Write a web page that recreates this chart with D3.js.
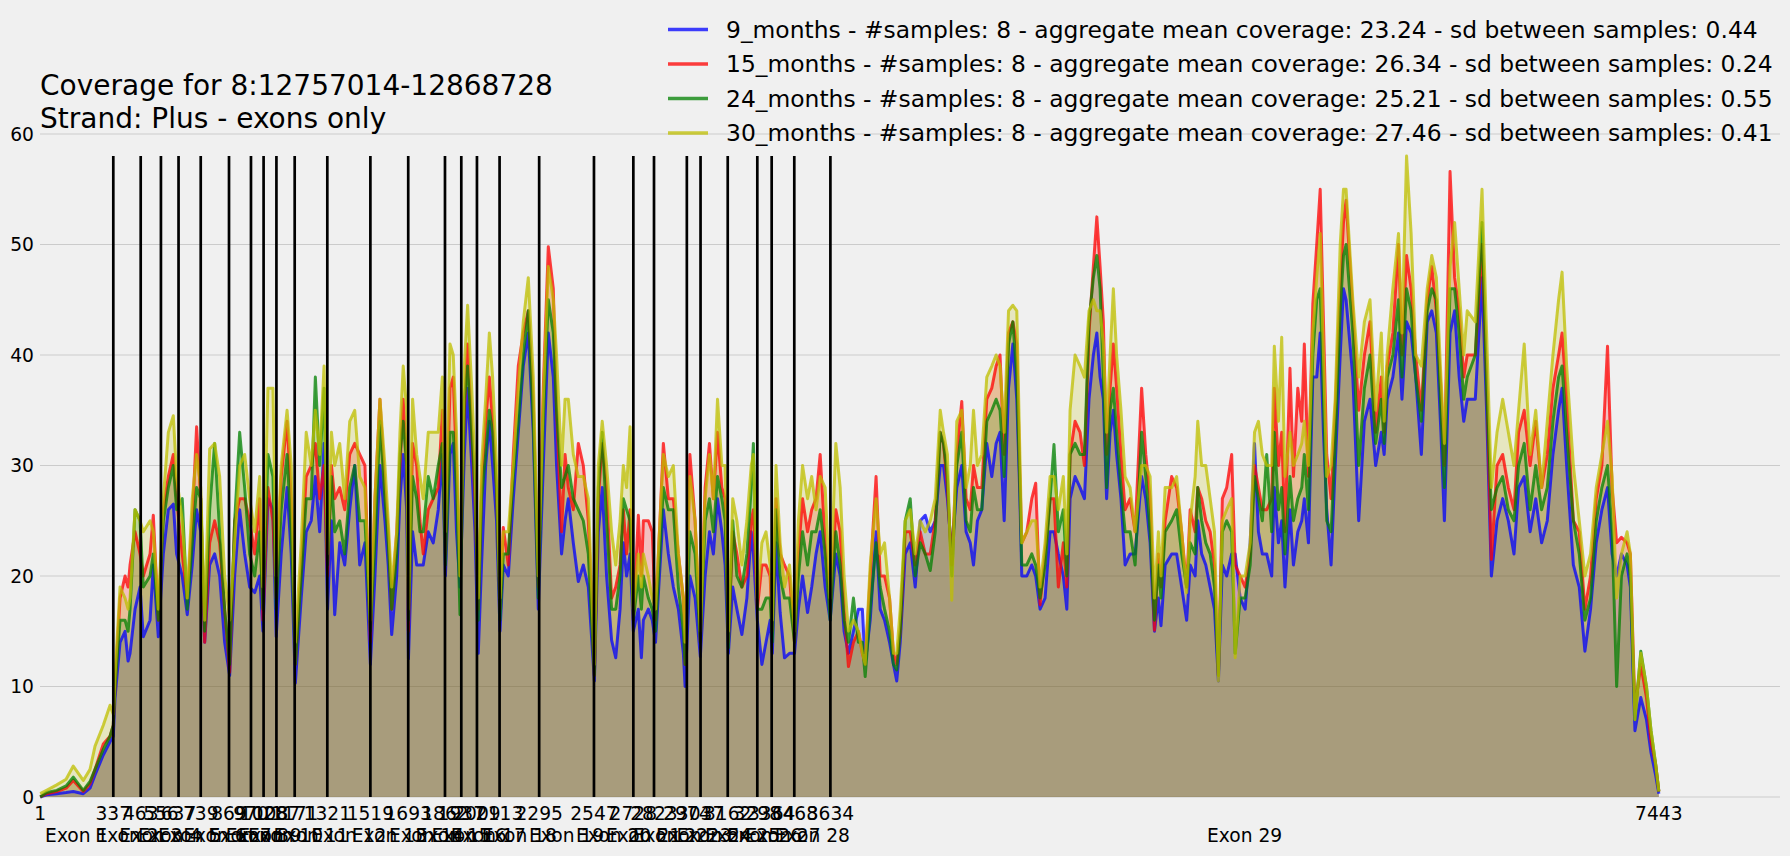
<!DOCTYPE html>
<html>
<head>
<meta charset="utf-8">
<script src="https://cdn.jsdelivr.net/npm/d3@7/dist/d3.min.js"></script>
<style>
    body { margin: 0; background: #f0f0f0; }
    svg  { display: block; font-family: "DejaVu Sans", sans-serif; }
</style>
</head>
<body>
<svg id="chart" width="1790" height="856"></svg>
<script>
// positions along the concatenated exons (bp)
var positions = [
    1, 30, 77, 120, 153, 199, 230, 253, 291, 322,
    337, 345, 368, 391, 405, 414, 437, 460, 475, 506,
    521, 544, 567, 590, 613, 628, 654, 677, 700, 720,
    739, 757, 780, 803, 826, 849, 872, 895, 918, 941,
    964, 987, 1010, 1025, 1048, 1071, 1086, 1109, 1136, 1155,
    1174, 1201, 1224, 1247, 1266, 1286, 1306, 1322, 1340, 1355,
    1378, 1401, 1424, 1447, 1470, 1494, 1519, 1540, 1563, 1586,
    1601, 1617, 1640, 1655, 1670, 1686, 1694, 1713, 1732, 1747,
    1762, 1785, 1808, 1831, 1850, 1864, 1885, 1900, 1915, 1931,
    1951, 1966, 1985, 2000, 2015, 2030, 2049, 2066, 2081, 2099,
    2115, 2130, 2153, 2176, 2199, 2222, 2245, 2268, 2291, 2314,
    2337, 2360, 2375, 2398, 2414, 2429, 2452, 2475, 2498, 2521,
    2549, 2567, 2585, 2605, 2628, 2647, 2667, 2682, 2697, 2713,
    2728, 2751, 2765, 2774, 2797, 2815, 2830, 2866, 2889, 2912,
    2935, 2958, 2966, 2988, 3012, 3036, 3058, 3078, 3096, 3115,
    3135, 3150, 3165, 3185, 3204, 3227, 3250, 3270, 3280, 3298,
    3319, 3338, 3357, 3367, 3384, 3403, 3423, 3446, 3469, 3487,
    3506, 3529, 3548, 3568, 3587, 3610, 3633, 3659, 3679, 3697,
    3717, 3740, 3763, 3781, 3794, 3817, 3844, 3863, 3883, 3906,
    3924, 3939, 3955, 3978, 4001, 4024, 4047, 4070, 4093, 4116,
    4139, 4154, 4172, 4192, 4215, 4238, 4258, 4277, 4292, 4310,
    4330, 4353, 4376, 4396, 4414, 4433, 4453, 4473, 4491, 4504,
    4514, 4537, 4560, 4578, 4598, 4621, 4644, 4662, 4682, 4705,
    4721, 4736, 4759, 4782, 4802, 4823, 4843, 4859, 4874, 4889,
    4904, 4920, 4935, 4950, 4970, 4989, 5012, 5035, 5065, 5084,
    5104, 5124, 5142, 5154, 5173, 5203, 5226, 5249, 5272, 5288,
    5311, 5323, 5341, 5360, 5380, 5400, 5418, 5436, 5456, 5479,
    5495, 5518, 5541, 5564, 5584, 5602, 5620, 5640, 5663, 5675,
    5694, 5709, 5724, 5747, 5763, 5783, 5801, 5813, 5832, 5852,
    5870, 5886, 5901, 5916, 5936, 5955, 5978, 5993, 6005, 6036,
    6063, 6089, 6115, 6141, 6167, 6180, 6194, 6220, 6246, 6262,
    6283, 6304, 6325, 6351, 6378, 6399, 6420, 6441, 6457, 6483,
    6504, 6525, 6546, 6562, 6599, 6630, 6651, 6673, 6699, 6725,
    6751, 6777, 6798, 6824, 6851, 6877, 6904, 6930, 6956, 6982,
    6998, 7019, 7050, 7077, 7103, 7129, 7155, 7181, 7207, 7228,
    7249, 7271, 7297, 7312, 7333, 7360, 7386, 7407, 7428, 7443
]

var months9 = [
    0, 0.2, 0.3, 0.4, 0.5, 0.3, 0.8, 2.0, 3.8, 5.0,
    5.5, 9, 14, 15, 12.3, 13, 17, 19, 14.5, 16,
    21, 14.5, 22, 26, 26.5, 22, 20, 16.5, 21, 26,
    24, 14, 21, 22, 20, 14, 11, 20, 26, 22,
    19, 18.5, 20, 15, 27, 26, 14.5, 22, 28, 22,
    10.3, 18, 24, 25, 29, 24, 32, 17, 25, 16.5,
    23, 21, 26, 30, 21, 23, 12, 20, 30, 25,
    21, 14.7, 20, 27, 31, 26, 12.5, 24, 21, 21,
    21, 24, 23, 26, 31, 20, 31, 32, 24, 19,
    31, 37, 30, 24, 13, 21, 30, 34, 30, 25,
    15, 21, 20, 27, 33, 39, 42, 33, 17, 30,
    42, 38, 30, 22, 25, 27, 23, 19.5, 21, 19,
    10.5, 24, 28, 20, 14.2, 12.6, 17, 23, 20, 22,
    15, 17, 12.6, 16, 17, 16, 14, 26, 22, 19,
    17, 13, 10, 20, 18, 12.7, 20, 24, 22, 27,
    24, 21, 13, 19, 17, 14.7, 18, 24, 22, 16,
    12, 14, 16, 13, 23, 16.7, 12.6, 13, 13, 17,
    20, 16.7, 19, 22, 24, 19, 16, 22, 20, 15,
    13, 15, 17, 17, 12, 16, 24, 17, 16, 14,
    12, 10.5, 14, 22, 23, 19, 25, 25.5, 24, 25,
    30, 30, 27, 22, 28, 30, 24, 23, 21, 25,
    26, 32, 29, 32, 33, 25, 37, 41, 36, 28,
    20, 20, 21, 20, 17, 18, 24, 24, 22, 20,
    17, 27, 29, 28, 27, 36, 40, 42, 38, 36,
    27, 33, 35, 31, 27, 21, 22, 22, 29, 27,
    23, 15, 18, 15.5, 21, 22, 22, 19, 16, 21,
    20, 25, 22, 21, 19, 17, 10.5, 21, 20, 22,
    22, 18, 17, 23, 32, 24, 22, 22, 20, 28,
    23, 25, 19, 26, 21, 24, 25, 27, 23, 38,
    38, 42, 33, 26, 21, 30, 40, 46, 45, 38,
    25, 34, 36, 30, 33, 31, 36, 38, 42, 36,
    43, 42, 38, 31, 43, 44, 42, 33, 25, 42,
    44, 38, 34, 36, 36, 47, 35, 20, 25, 27,
    25, 22, 28, 29, 24, 27, 23, 25, 31, 35,
    37, 30, 21, 19, 13.2, 17, 23, 26, 28, 22,
    20, 22, 21, 19, 6, 9, 7, 4, 2, 0.3
]

var months15 = [
    0, 0.3, 0.5, 0.8, 1.5, 0.5, 1.2, 2.5, 4.8, 5.5,
    6.5, 10, 18, 20, 19, 21, 24, 22, 20, 22,
    25.5, 16, 26, 29, 31, 27, 22, 18, 25, 33.5,
    27, 14, 23, 25, 23, 17, 11.3, 25, 27, 27,
    25, 22, 27, 16, 28, 25, 18, 29, 34, 27,
    12, 21, 29, 30, 32, 27, 30, 20, 30, 27,
    28, 26, 31, 32, 31, 30, 14, 27, 36, 28,
    24, 17, 24, 30, 36, 30, 15, 32, 30, 25,
    22, 26, 27, 28, 35, 22, 37, 38, 30, 20,
    35, 41, 33, 27, 17, 28, 34, 38, 34, 28,
    17, 24.4, 21, 31, 39, 42, 44, 36, 19, 37,
    49.8, 46, 35, 24, 31, 28, 26, 32, 30, 25,
    11, 27, 32, 28, 18, 19, 21, 26, 22, 26,
    16, 25.5, 20, 25, 25, 24, 16, 32, 27, 27,
    22, 18, 12, 31, 25, 14, 28, 32, 27, 33,
    28, 27, 14, 24, 22, 19, 20, 25, 26, 17,
    21, 21, 20, 15, 27, 22, 21, 20, 14, 22,
    27, 24, 26, 27, 31, 23, 17, 26, 24, 17,
    11.8, 14, 15, 13, 12, 20, 29, 20, 20, 18,
    13, 12, 15, 24, 24, 21, 24, 22, 22, 25,
    33, 32, 28, 21, 31, 35.8, 27, 26, 30, 28,
    28, 36, 37, 39, 40, 31, 42, 43, 41, 30,
    23, 24, 27, 28.4, 17.4, 22, 27, 27, 19, 23,
    19, 31, 34, 33, 30, 42, 48, 52.5, 48, 43,
    31, 37, 41, 37, 31, 26, 27, 24, 37, 31,
    27, 15.1, 22, 19, 25, 29, 28, 24, 19, 26,
    24, 28, 27, 25, 24, 21, 11, 27, 28, 31,
    21, 20, 19, 22, 30, 28, 26, 26, 27, 37,
    30, 33, 24, 38.8, 29, 37, 34, 41, 29, 44.6,
    50, 55, 43, 31, 27, 35, 46, 52, 54, 44,
    35, 40, 43, 33, 38, 33, 39, 42, 50, 40,
    49, 46, 40, 35, 45, 48, 44, 37, 30, 56.6,
    47, 44, 38, 40, 40, 50, 38, 21.5, 30, 31,
    28, 26, 33, 35, 30, 34, 28, 31, 37, 40,
    42, 36, 25, 24, 17, 20, 27, 30, 40.8, 28,
    23, 23.5, 23, 22, 8, 12, 9, 5, 3, 0.5
]

var months24 = [
    0, 0.4, 0.6, 1.0, 1.8, 0.6, 1.4, 2.5, 4.3, 5.5,
    6.5, 10, 16, 16, 15, 17, 26, 25, 19, 20,
    22, 16, 25, 28, 30, 26, 27, 17, 23, 28,
    27, 15, 26, 32, 24, 17, 12, 25, 33, 28,
    22, 20, 24, 17, 31, 29, 17, 26, 31, 24,
    12, 20, 27, 27, 38, 30, 37, 21, 29, 24,
    25, 22, 28, 30, 25, 25, 15, 23, 34, 27,
    23, 17, 22, 31, 34, 30, 16, 29, 27, 24,
    24, 29, 27, 30, 32, 21, 33, 33, 28, 16.5,
    36, 39, 33, 28, 16, 27, 31, 35, 33, 28,
    16, 22, 22, 29, 34, 40, 44, 34, 18, 34,
    45, 42, 35, 28, 29, 30, 27, 26, 25, 22,
    11, 28, 33, 25, 17, 17, 20, 27, 26, 25,
    16, 20, 17, 20, 18, 17, 15, 28, 26, 26,
    19, 15, 12, 24, 22, 14, 25, 27, 24, 29,
    27, 25, 13.5, 25, 20, 19, 22, 28, 32, 17,
    17, 18, 18, 14, 26, 20, 18, 18, 14, 20,
    24, 21, 24, 24, 26, 22, 16, 24, 21, 16,
    14, 18, 14, 14, 10.9, 17, 23, 19, 17, 15,
    12, 11.5, 15, 25, 27, 20, 23, 22, 20.5, 24,
    33, 32, 29, 20, 30, 33, 25, 24, 28, 26,
    26, 34, 35, 36, 35, 29, 41, 43, 38, 29,
    21, 21, 22, 21, 18, 21, 27, 31.9, 24, 26,
    20, 31, 32, 31, 31, 43, 47, 49, 46, 38,
    28, 35, 37, 33, 28, 24, 24, 21, 33, 29,
    24, 16, 21, 18, 24, 25, 26, 22, 19, 23,
    22, 28, 25, 23, 22, 19, 11, 24, 25, 24,
    13, 18, 18, 21, 29, 27, 25, 31, 24, 33,
    26, 28, 22, 29, 25, 27, 28, 31, 26, 40,
    45, 46, 36, 25, 24, 32, 44, 49, 50, 42,
    30, 37, 40, 32, 36, 32, 38, 40, 45, 38,
    46, 44, 38, 34, 44, 46, 45, 35, 28, 46,
    46, 42, 36, 38, 40, 52, 37, 26, 28, 29,
    26, 25, 30, 32, 26, 30, 26, 28, 34, 38,
    39, 33, 25, 22, 16, 18, 25, 28, 30, 24,
    10, 20, 22, 20, 7, 13.2, 10, 6, 3, 0.5
]

var months30 = [
    0.3, 0.6, 1.1, 1.6, 2.8, 1.5, 2.5, 4.6, 6.5, 8.3,
    7.5, 11, 19, 18, 17, 18, 26, 25, 24, 25,
    24, 17, 27, 33, 34.5, 29, 25, 18, 27, 31,
    28, 16, 31.5, 32, 29, 20, 16, 23, 30, 31,
    27, 24, 29, 19, 37, 37, 20, 30, 35, 30,
    14, 23, 33, 30, 35, 31, 39, 22, 33, 30,
    32, 27, 34, 35, 29, 28, 16, 27, 36, 30,
    25, 19, 24, 33, 39, 35, 17, 36, 31, 29,
    27, 33, 33, 33, 38, 24, 41, 40, 33, 20,
    39, 44.5, 37, 30, 18, 30, 36, 42, 38, 30,
    18, 24, 24, 30, 37, 43, 47, 38, 20, 36,
    48, 45, 40, 30, 36, 36, 31, 29, 29, 27,
    12, 30, 34, 30, 24, 21, 25, 30, 28, 33.5,
    17, 22, 19, 22, 20, 18, 17, 31, 29, 30,
    22, 18, 14, 29, 25, 15, 27, 31, 27, 36,
    30, 30, 15, 27, 25, 21, 25, 30, 31, 18,
    23, 24, 21, 16, 30, 23, 19, 21, 15, 25,
    30, 27, 29, 26, 29, 28, 18, 32, 28, 20,
    15, 16, 15, 13, 12, 21, 27, 22, 23, 18,
    13, 13, 17, 25, 26, 22, 25, 24, 25, 27,
    35, 33, 31, 17.8, 34, 35, 28, 30, 35, 30,
    31, 38, 39, 40, 39, 33, 44, 44.5, 44, 32,
    23, 24, 25, 25, 19, 23, 29, 29, 26, 29,
    22, 35, 40, 39, 38, 44, 45, 44, 44, 41,
    33, 40, 46, 40, 35, 29, 28, 24, 30, 30,
    29, 18, 24, 20, 28, 28, 29, 24, 18.5, 25,
    29, 34, 30, 30, 27, 24, 10.5, 25, 26, 27,
    12.6, 20, 20, 23, 33, 34, 31, 30, 30, 40.8,
    34, 41.6, 29, 33, 30, 31, 32, 34, 30, 42,
    47, 51, 40, 29, 30, 36, 50, 55, 55, 45,
    38, 43, 45, 35, 42, 34, 40, 46, 51, 42,
    58, 51, 40, 39, 46, 49, 47, 38, 32, 48,
    52, 46, 40, 44, 43, 55, 42, 28, 33, 36,
    33, 30, 35, 41, 31, 35, 28, 34, 40, 45,
    47.5, 39, 30, 25, 20, 22, 28, 31, 34, 29,
    18, 22, 24, 22, 7, 13, 10, 6, 3, 0.5
]

var seriesNames   = ["9_months", "15_months", "24_months", "30_months"]
var seriesValues  = [months9, months15, months24, months30]
var seriesColors  = ["#0000ff", "#ff0000", "#008000", "#bfbf00"]
var sampleCounts  = [8, 8, 8, 8]
var meanCoverage  = ["23.24", "26.34", "25.21", "27.46"]
var sdBetween     = ["0.44", "0.24", "0.55", "0.41"]

// exon boundaries (first and last are the region ends)
var exonBounds = [1, 337, 463, 556, 637, 739, 869, 970, 1028, 1087, 1171, 1321, 1519, 1693,
                  1862, 1937, 2009, 2113, 2295, 2547, 2728, 2823, 2974, 3037, 3162, 3298,
                  3364, 3468, 3634, 7443]
var yTicks = [0, 10, 20, 30, 40, 50, 60]
var titleLines = ["Coverage for 8:12757014-12868728", "Strand: Plus - exons only"]

var svg = d3.select("#chart")

var plotLeft   = 40
var plotRight  = 1780
var plotTop    = 134
var plotBottom = 797

var xScale = d3.scaleLinear().domain([0, 8000]).range([plotLeft, plotRight])
var yScale = d3.scaleLinear().domain([0, 60]).range([plotBottom, plotTop])

// horizontal grid
svg.append("g")
    .selectAll("line")
    .data(yTicks)
    .enter()
        .append("line")
        .attr("x1", plotLeft)
        .attr("x2", plotRight)
        .attr("y1", function(d){return yScale(d)})
        .attr("y2", function(d){return yScale(d)})
        .attr("stroke", "#cbcbcb")
        .attr("stroke-width", 1.2)

var series = seriesNames.map(function(name, i)
{
    return {
        name: name,
        color: seriesColors[i],
        points: positions.map(function(p, j){return {x: p, y: seriesValues[i][j]}})
    }
})

var area = d3.area()
    .x(function(d){return xScale(d.x)})
    .y0(yScale(0))
    .y1(function(d){return yScale(d.y)})

var line = d3.line()
    .x(function(d){return xScale(d.x)})
    .y(function(d){return yScale(d.y)})

// fills go below all the lines, like matplotlib's zorder
svg.append("g")
    .selectAll("path")
    .data(series)
    .enter()
        .append("path")
        .attr("d", function(d){return area(d.points)})
        .attr("fill", function(d){return d.color})
        .attr("fill-opacity", 0.2)

svg.append("g")
    .selectAll("path")
    .data(series)
    .enter()
        .append("path")
        .attr("d", function(d){return line(d.points)})
        .attr("fill", "none")
        .attr("stroke", function(d){return d.color})
        .attr("stroke-opacity", 0.75)
        .attr("stroke-width", 3)
        .attr("stroke-linejoin", "round")

// exon boundaries
var maxCov = d3.max(seriesValues, function(v){return d3.max(v)})
svg.append("g")
    .selectAll("line")
    .data(exonBounds.slice(1, -1))
    .enter()
        .append("line")
        .attr("x1", function(d){return xScale(d)})
        .attr("x2", function(d){return xScale(d)})
        .attr("y1", yScale(0))
        .attr("y2", yScale(maxCov))
        .attr("stroke", "#000")
        .attr("stroke-width", 2.7)

// y tick labels
svg.append("g")
    .selectAll("text")
    .data(yTicks)
    .enter()
        .append("text")
        .attr("x", 34)
        .attr("y", function(d){return yScale(d)})
        .attr("dy", "0.35em")
        .attr("text-anchor", "end")
        .attr("font-size", "18.67px")
        .attr("fill", "#000")
        .text(function(d){return d})

// x tick labels: boundary positions and exon names
svg.append("g")
    .selectAll("text")
    .data(exonBounds)
    .enter()
        .append("text")
        .attr("x", function(d){return xScale(d)})
        .attr("y", 820)
        .attr("text-anchor", "middle")
        .attr("font-size", "18.67px")
        .text(function(d){return d})

var exonMids = d3.range(exonBounds.length - 1).map(function(i)
{
    return {label: "Exon " + (i + 1), x: (exonBounds[i] + exonBounds[i + 1]) / 2}
})

svg.append("g")
    .selectAll("text")
    .data(exonMids)
    .enter()
        .append("text")
        .attr("x", function(d){return xScale(d.x)})
        .attr("y", 842)
        .attr("text-anchor", "middle")
        .attr("font-size", "18.67px")
        .text(function(d){return d.label})

// title
svg.append("g")
    .selectAll("text")
    .data(titleLines)
    .enter()
        .append("text")
        .attr("x", 40)
        .attr("y", function(d, i){return 95 + i * 33})
        .attr("font-size", "28px")
        .text(function(d){return d})

// legend
var legend = svg.append("g")
    .selectAll("g")
    .data(series)
    .enter()
        .append("g")
        .attr("transform", function(d, i){return "translate(0," + (29.5 + i * 34.5) + ")"})

legend.append("line")
    .attr("x1", 668)
    .attr("x2", 708)
    .attr("stroke", function(d){return d.color})
    .attr("stroke-opacity", 0.75)
    .attr("stroke-width", 3.5)

legend.append("text")
    .attr("x", 726)
    .attr("dy", "0.35em")
    .attr("font-size", "23.4px")
    .text(function(d, i)
    {
        return d.name + " - #samples: " + sampleCounts[i] + " - aggregate mean coverage: " +
            meanCoverage[i] + " - sd between samples: " + sdBetween[i]
    })
</script>
</body>
</html>
